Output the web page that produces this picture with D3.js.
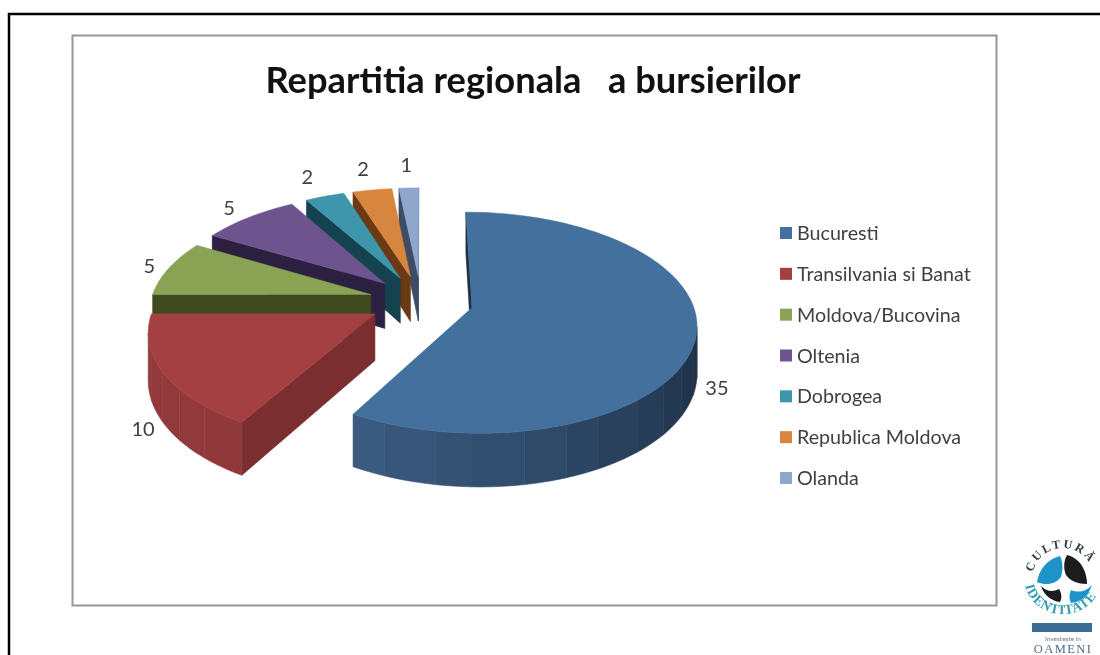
<!DOCTYPE html>
<html lang="en">
<head>
<title>Repartitia regionala a bursierilor</title>
<meta charset="utf-8">
<script src="https://d3js.org/d3.v7.min.js"></script>
<style>
    html, body { margin: 0; padding: 0; background: #fff; overflow: hidden; }
    svg { display: block; }
    text { font-family: Lato, sans-serif; }
    .soft { filter: blur(0.45px); }
</style>
</head>
<body>
<div id="chart"></div>
<script>
var chartTitle = "Repartitia regionala   a bursierilor";
var regions = ["Bucuresti", "Transilvania si Banat", "Moldova/Bucovina", "Oltenia", "Dobrogea", "Republica Moldova", "Olanda"];
var bursieri = [35, 10, 5, 5, 2, 2, 1];

// colours per slice: top face, straight side, curved side (lit end, dark end)
var topColors = ["#44709d", "#a54042", "#8aa254", "#6e548f", "#3d96ab", "#d8853f", "#8fa7cc"];
var edgeColors = ["#1c2f44", "#7a2e30", "#3f4a20", "#2c2040", "#14434f", "#6b3a14", "#3e4c66"];
var arcLit = ["#3f6188", "#923a3b", "#4c5a28", "#372a50", "#1a5361", "#7c4419", "#4b5b79"];
var arcDark = ["#1d3045", "#7c2f30", "#3f4a20", "#2c2040", "#14434f", "#6b3a14", "#3e4c66"];
var labelGap = [1.09, 1.09, 1.1, 1.16, 1.27, 1.28, 1.3];

var width = 1100, height = 655;

var svg = d3.select("#chart").append("svg")
    .attr("width", width)
    .attr("height", height);

// slide border, runs off the right and bottom
svg.append("path")
    .attr("d", "M9,655V14H1100")
    .attr("fill", "none")
    .attr("stroke", "#000")
    .attr("stroke-width", 2.5);

svg.append("rect")
    .attr("x", 72.5).attr("y", 35.5)
    .attr("width", 924).attr("height", 570)
    .attr("fill", "#fff")
    .attr("stroke", "#969696")
    .attr("stroke-width", 2);

var chart = svg.append("g").attr("class", "soft");

chart.append("text")
    .attr("x", 533).attr("y", 93)
    .attr("text-anchor", "middle")
    .attr("font-size", 36.3)
    .attr("font-weight", 700)
    .attr("fill", "#111")
    .style("white-space", "pre")
    .text(chartTitle);

// pie in the plane (u right, v back), radius 1, then a simple perspective
var radius = 220, squash = 0.485, persp = 0.135, depth = 46, explode = 0.238;
var cx = 421, cy = 301;

function project(u, v, drop) {
    var s = 1 / (1 + persp * v);
    return [cx + radius * u * s, cy - radius * squash * v * s + (drop || 0) * depth * s];
}

var slices = d3.pie().sort(null).startAngle(0).endAngle(2 * Math.PI)(bursieri);

function polar(a, r, off) {
    return [off[0] + r * Math.sin(a), off[1] + r * Math.cos(a)];
}

var line = d3.line();
var pieG = chart.append("g");
var band = Math.PI / 18;

function wall(points, col) {
    var top = points.map(function(p) { return project(p[0], p[1]); });
    var bottom = points.map(function(p) { return project(p[0], p[1], 1); }).reverse();
    pieG.append("path")
        .attr("d", line(top.concat(bottom)) + "Z")
        .attr("fill", col)
        .attr("stroke", col)
        .attr("stroke-width", 0.6);
}

function facing(p, q) {
    return d3.polygonArea([project(p[0], p[1]), project(q[0], q[1]), project(q[0], q[1], 1), project(p[0], p[1], 1)]) > 0;
}

// back slices first
d3.range(slices.length - 1, -1, -1).forEach(function(i) {
    var d = slices[i];
    var mid = (d.startAngle + d.endAngle) / 2;
    var off = polar(mid, explode, [0, 0]);
    var stepCount = Math.max(1, Math.ceil((d.endAngle - d.startAngle) / (Math.PI / 90)));
    var angles = d3.range(stepCount + 1).map(function(k) {
        return d.startAngle + (d.endAngle - d.startAngle) * k / stepCount;
    });
    var rim = angles.map(function(a) { return polar(a, 1, off); });

    var shade = d3.scaleLinear()
        .domain([Math.PI * 0.55, Math.PI * 1.2])
        .range([arcDark[i], arcLit[i]])
        .clamp(true);

    // straight sides
    if (facing(off, rim[0])) wall([off, rim[0]], edgeColors[i]);
    if (facing(rim[rim.length - 1], off)) wall([rim[rim.length - 1], off], edgeColors[i]);

    // curved side, one flat colour per 10 degree band
    var run = [], runBand = null;
    rim.forEach(function(p, k) {
        if (k === rim.length - 1) return;
        var q = rim[k + 1];
        var b = Math.floor(angles[k] / band);
        if (!facing(p, q)) return;
        if (b !== runBand) {
            if (run.length) wall(run, shade(runBand * band));
            run = [p];
            runBand = b;
        }
        run.push(q);
    });
    if (run.length) wall(run, shade(runBand * band));

    var outline = [off].concat(rim);
    pieG.append("path")
        .attr("d", line(outline.map(function(p) { return project(p[0], p[1]); })) + "Z")
        .attr("fill", topColors[i])
        .attr("stroke", topColors[i])
        .attr("stroke-width", 0.5);
});

// value labels
slices.forEach(function(d, i) {
    var mid = (d.startAngle + d.endAngle) / 2;
    var off = polar(mid, explode, [0, 0]);
    var p = polar(mid, labelGap[i], off);
    var xy = project(p[0], p[1], p[1] < 0 ? 1 : 0);
    chart.append("text")
        .attr("x", xy[0]).attr("y", xy[1])
        .attr("dy", "0.35em")
        .attr("text-anchor", "middle")
        .attr("font-size", 20)
        .attr("fill", "#404040")
        .text(d.data);
});

// legend
var legendY = d3.scalePoint().domain(regions).range([233, 478]);
var legend = chart.selectAll(".legend-item").data(regions).enter().append("g")
    .attr("class", "legend-item")
    .attr("transform", function(d) { return "translate(780," + legendY(d) + ")"; });
legend.append("rect")
    .attr("x", 0).attr("y", -6)
    .attr("width", 12).attr("height", 12)
    .attr("fill", function(d, i) { return topColors[i]; });
legend.append("text")
    .attr("x", 17)
    .attr("dy", "0.36em")
    .attr("font-size", 19.7)
    .attr("fill", "#404040")
    .text(function(d) { return d; });

// logo, bottom right
var logo = svg.append("g").attr("class", "soft");
var defs = svg.append("defs");
defs.append("path").attr("id", "arc-top").attr("d", "M1034,590A31,31 0 1 1 1092,590");
defs.append("path").attr("id", "arc-bottom").attr("d", "M1025,580A38,34 0 0 0 1101,580");

logo.append("text")
    .style("font-family", "'Liberation Serif', serif")
    .attr("font-size", 12).attr("font-weight", 700)
    .attr("letter-spacing", 2.4).attr("fill", "#2b3a44")
    .append("textPath").attr("href", "#arc-top").attr("startOffset", "15%")
    .text("CULTURĂ");
logo.append("text")
    .style("font-family", "'Liberation Serif', serif")
    .attr("font-size", 13.5).attr("font-weight", 700)
    .attr("letter-spacing", 0.8).attr("fill", "#2f9cb3")
    .append("textPath").attr("href", "#arc-bottom").attr("startOffset", "5%")
    .text("IDENTITATE");

logo.append("path").attr("fill", "#1e93c8")
    .attr("d", "M1060,556C1048,559 1039,569 1037,582C1046,586 1056,584 1061,577C1063,570 1063,562 1060,556Z");
logo.append("path").attr("fill", "#1c1c1c")
    .attr("d", "M1067,555C1080,558 1087,571 1087,584C1078,584 1070,581 1066,575C1063,568 1064,560 1067,555Z");
logo.append("path").attr("fill", "#1c1c1c")
    .attr("d", "M1041,586C1047,592 1053,592 1059,589C1062,594 1062,598 1060,602C1051,601 1044,595 1041,586Z");
logo.append("path").attr("fill", "#1e93c8")
    .attr("d", "M1092,585C1086,592 1078,593 1071,590C1069,595 1069,599 1071,603C1081,602 1089,595 1092,585Z");

logo.append("rect")
    .attr("x", 1032).attr("y", 623)
    .attr("width", 60).attr("height", 9)
    .attr("fill", "#3a6d96");
logo.append("text")
    .attr("x", 1063).attr("y", 641)
    .attr("text-anchor", "middle")
    .attr("font-size", 6.5).attr("fill", "#777")
    .text("Investește în");
logo.append("text")
    .style("font-family", "'Liberation Serif', serif")
    .attr("x", 1063).attr("y", 652.5)
    .attr("text-anchor", "middle")
    .attr("font-size", 12.5).attr("letter-spacing", 1.4).attr("fill", "#4a6d8c")
    .text("OAMENI");
</script>
</body>
</html>
